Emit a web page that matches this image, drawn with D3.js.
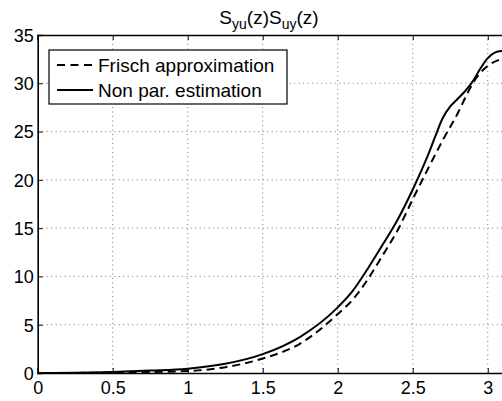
<!DOCTYPE html>
<html>
<head>
<meta charset="utf-8">
<style>
  body { margin: 0; overflow: hidden; background: #fff; }
  svg { display: block; font-family: "Liberation Sans", Arial, sans-serif; }
</style>
</head>
<body>
<svg width="530" height="401"></svg>
<script src="https://d3js.org/d3.v7.min.js"></script>
<script>

// curve samples
var fx = [0, 0.25, 0.5, 0.75, 1.0, 1.25, 1.5, 1.75, 2.0, 2.1, 2.2, 2.3, 2.4, 2.5, 2.6, 2.7, 2.8, 2.85, 2.9, 3.0, 3.07, 3.1416];
var fy = [0, 0.01, 0.03, 0.1, 0.2, 0.6, 1.5, 3.05, 6.1, 7.6, 9.7, 12.2, 14.8, 18.0, 21.1, 24.1, 26.9, 28.5, 30.0, 31.8, 32.4, 32.7];

var nx = [0, 0.25, 0.5, 0.75, 1.0, 1.25, 1.5, 1.75, 2.0, 2.1, 2.2, 2.3, 2.4, 2.5, 2.6, 2.65, 2.7, 2.75, 2.8, 2.85, 2.9, 2.95, 3.0, 3.05, 3.1, 3.1416];
var ny = [0, 0.02, 0.1, 0.25, 0.45, 0.95, 1.95, 3.75, 6.8, 8.5, 10.8, 13.3, 15.9, 19.0, 22.5, 24.5, 26.4, 27.6, 28.4, 29.2, 30.2, 31.5, 32.6, 33.2, 33.35, 33.4];

var xTicks = [0, 0.5, 1, 1.5, 2, 2.5, 3];
var yTicks = [0, 5, 10, 15, 20, 25, 30, 35];
var legendLabels = ["Frisch approximation", "Non par. estimation"];

var svg = d3.select("svg");
var mLeft = 37.7, mRight = 509, mTop = 35, mBottom = 373;

var x = d3.scaleLinear().domain([0, Math.PI]).range([mLeft, mRight]);
var y = d3.scaleLinear().domain([0, 35]).range([mBottom, mTop]);

// grid
var grid = svg.append("g")
    .attr("stroke", "#777")
    .attr("stroke-width", 1)
    .attr("stroke-dasharray", "1,3.5");
grid.selectAll(".gx").data(xTicks.slice(1))
  .enter().append("line")
    .attr("x1", function(d) { return x(d); })
    .attr("x2", function(d) { return x(d); })
    .attr("y1", mTop).attr("y2", mBottom);
grid.selectAll(".gy").data(yTicks.slice(1, -1))
  .enter().append("line")
    .attr("x1", mLeft).attr("x2", mRight)
    .attr("y1", function(d) { return y(d); })
    .attr("y2", function(d) { return y(d); });

// axes, ticks inward
var xAxis = svg.append("g")
    .attr("transform", "translate(0," + mBottom + ")")
    .call(d3.axisBottom(x).tickValues(xTicks).tickSize(-5).tickPadding(8)
      .tickFormat(d3.format("")));
var yAxis = svg.append("g")
    .attr("transform", "translate(" + mLeft + ",0)")
    .call(d3.axisLeft(y).tickValues(yTicks).tickSize(-5).tickPadding(4));
var xTop = svg.append("g")
    .attr("transform", "translate(0," + mTop + ")")
    .call(d3.axisTop(x).tickValues(xTicks).tickSize(-5).tickFormat(""));

[xAxis, yAxis, xTop].forEach(function(a) {
  a.selectAll("path").attr("stroke", "#000").attr("stroke-width", 1.6);
  a.selectAll(".tick line").attr("stroke", "#000").attr("stroke-width", 1);
  a.selectAll("text").attr("fill", "#000").style("font-size", "18px")
    .style("font-family", "Liberation Sans, Arial, sans-serif");
});
xAxis.selectAll("text").attr("dy", "0.71em");
yAxis.selectAll("text").attr("dy", "0.35em");

// curves
var line = d3.line()
    .x(function(d) { return x(d[0]); })
    .y(function(d) { return y(d[1]); })
    .curve(d3.curveMonotoneX);

svg.append("path")
    .datum(d3.zip(fx, fy))
    .attr("fill", "none")
    .attr("stroke", "#000")
    .attr("stroke-width", 2)
    .attr("stroke-dasharray", "8,5")
    .attr("d", line);

svg.append("path")
    .datum(d3.zip(nx, ny))
    .attr("fill", "none")
    .attr("stroke", "#000")
    .attr("stroke-width", 2)
    .attr("d", line);

// title
var title = svg.append("text")
    .attr("x", 269)
    .attr("y", 24)
    .attr("text-anchor", "middle")
    .style("font-size", "19px");
title.append("tspan").text("S");
title.append("tspan").attr("dy", 5).style("font-size", "14px").text("yu");
title.append("tspan").attr("dy", -5).text("(z)S");
title.append("tspan").attr("dy", 5).style("font-size", "14px").text("uy");
title.append("tspan").attr("dy", -5).text("(z)");

// legend
var lg = svg.append("g");
lg.append("rect")
    .attr("x", 49).attr("y", 50)
    .attr("width", 238).attr("height", 54)
    .attr("fill", "#fff").attr("stroke", "#000").attr("stroke-width", 1.2);

var items = lg.selectAll(".item").data(legendLabels)
  .enter().append("g")
    .attr("transform", function(d, i) { return "translate(0," + (65 + i * 25) + ")"; });
items.append("line")
    .attr("x1", 57).attr("x2", 93)
    .attr("stroke", "#000").attr("stroke-width", 2)
    .attr("stroke-dasharray", function(d, i) { return i === 0 ? "8,5.5" : null; });
items.append("text")
    .attr("x", 98).attr("dy", "0.36em")
    .style("font-size", "19px")
    .text(function(d) { return d; });

</script>
</body>
</html>
